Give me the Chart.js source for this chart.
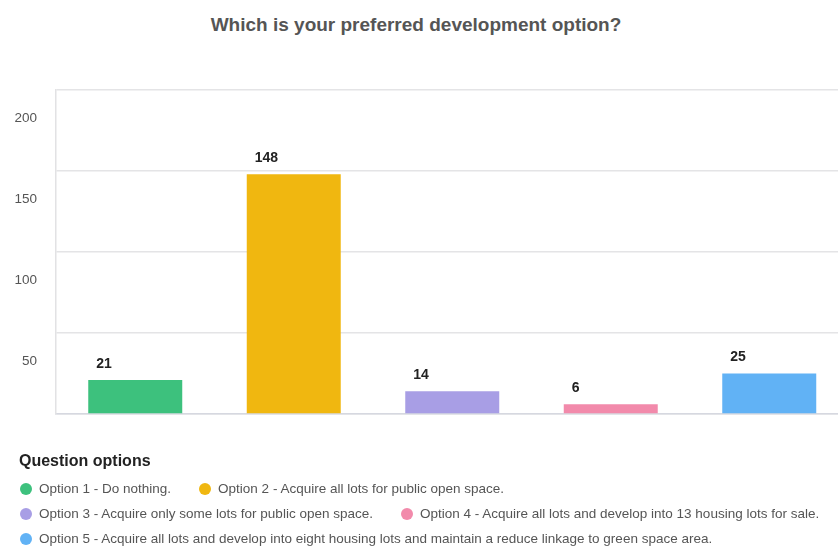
<!DOCTYPE html>
<html>
<head>
<meta charset="utf-8">
<script src="https://cdn.jsdelivr.net/npm/chart.js@4/dist/chart.umd.min.js"></script>
<style>
    html, body { margin: 0; padding: 0; background: #fff; overflow: hidden; }
    body { width: 838px; height: 560px; position: relative; font-family: "Liberation Sans", Arial, sans-serif; }
    #title { position: absolute; left: 0; width: 832px; top: 14px; text-align: center; font-size: 19px; font-weight: bold; color: #555; }
    #wrap { position: absolute; left: 0; top: 0; width: 850px; height: 560px; }
    #legend { position: absolute; left: 20px; top: 452px; width: 818px; }
    #legend h4 { margin: 0 0 6px -1px; font-size: 16px; color: #222; }
    #legend .items { display: flex; flex-wrap: wrap; column-gap: 28px; }
    #legend .item { display: flex; align-items: center; height: 25px; font-size: 13.5px; color: #555; white-space: nowrap; }
    #legend .dot { width: 12px; height: 12px; border-radius: 50%; margin-right: 7px; }
</style>
</head>
<body>
<div id="title">Which is your preferred development option?</div>
<div id="wrap"><canvas id="chart" width="850" height="560"></canvas></div>
<div id="legend">
    <h4>Question options</h4>
    <div class="items" id="legendItems"></div>
</div>
<script>
    // Data
    var categories = [
        'Option 1 - Do nothing.',
        'Option 2 - Acquire all lots for public open space.',
        'Option 3 - Acquire only some lots for public open space.',
        'Option 4 - Acquire all lots and develop into 13 housing lots for sale.',
        'Option 5 - Acquire all lots and develop into eight housing lots and maintain a reduce linkage to green space area.'
    ];
    var votes = [21, 148, 14, 6, 25];
    var yTicks = [0, 50, 100, 150, 200];
    var barColors = ['#3dc17d', '#f0b710', '#a89ee5', '#f28aab', '#61b2f5'];

    // Legend
    var legendBox = document.getElementById('legendItems');
    categories.forEach(function(label, i) {
        var item = document.createElement('div');
        item.className = 'item';
        var dot = document.createElement('span');
        dot.className = 'dot';
        dot.style.background = barColors[i];
        item.appendChild(dot);
        item.appendChild(document.createTextNode(label));
        legendBox.appendChild(item);
    });

    // Value labels above bars
    var valueLabels = {
        id: 'valueLabels',
        afterDatasetsDraw: function(chart) {
            var ctx = chart.ctx;
            var meta = chart.getDatasetMeta(0);
            ctx.save();
            ctx.font = 'bold 14px "Liberation Sans", Arial, sans-serif';
            ctx.fillStyle = '#222';
            ctx.textAlign = 'left';
            ctx.textBaseline = 'middle';
            meta.data.forEach(function(bar, i) {
                ctx.fillText(String(votes[i]), bar.x - bar.width / 2 + 8, bar.y - 16);
            });
            ctx.restore();
        }
    };

    var ctx = document.getElementById('chart').getContext('2d');
    new Chart(ctx, {
        type: 'bar',
        data: {
            labels: categories,
            datasets: [{
                data: votes,
                backgroundColor: barColors,
                borderWidth: 0,
                categoryPercentage: 1,
                barPercentage: 0.593
            }]
        },
        options: {
            responsive: false,
            animation: false,
            layout: { padding: { top: 90, bottom: 146, left: 0, right: 1.5 } },
            plugins: {
                legend: { display: false },
                tooltip: { enabled: false },
                title: { display: false }
            },
            scales: {
                x: {
                    ticks: { display: false },
                    grid: { display: false },
                    border: { display: true, color: '#d6d8e0', width: 1.5 },
                    afterFit: function(scale) { scale.height = 0; }
                },
                y: {
                    min: yTicks[0],
                    max: yTicks[yTicks.length - 1],
                    afterBuildTicks: function(scale) {
                        scale.ticks = yTicks.map(function(v) { return { value: v }; });
                    },
                    afterFit: function(scale) { scale.width = 56; },
                    ticks: {
                        padding: 19,
                        labelOffset: 28,
                        color: '#555',
                        font: { family: '"Liberation Sans", Arial, sans-serif', size: 13.5 },
                        callback: function(v) { return v === 0 ? '' : v; }
                    },
                    grid: { color: '#e4e4e6', lineWidth: 1.5, drawTicks: false },
                    border: { display: true, color: '#e2e2e4', width: 1.5 }
                }
            }
        },
        plugins: [valueLabels]
    });
</script>
</body>
</html>
